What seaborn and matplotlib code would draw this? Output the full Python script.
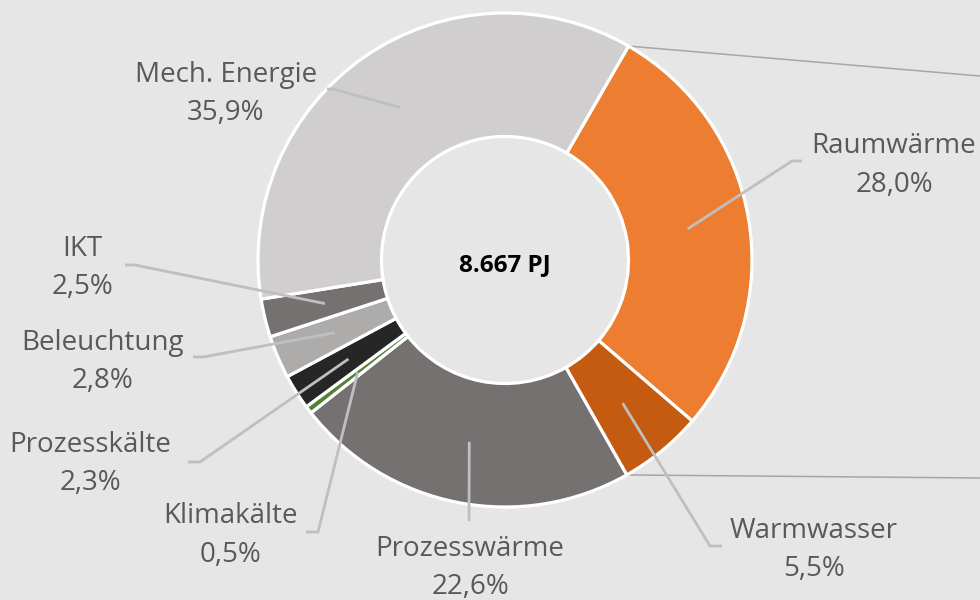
import numpy as np
import matplotlib
matplotlib.use("Agg")
import matplotlib.pyplot as plt
import seaborn as sns

# Daten
kategorien = ["Raumwärme", "Warmwasser", "Prozesswärme", "Klimakälte",
              "Prozesskälte", "Beleuchtung", "IKT", "Mech. Energie"]
anteile = [28.0, 5.5, 22.6, 0.5, 2.3, 2.8, 2.5, 35.9]
gesamt_pj = 8667

farben = ["#ed7d31", "#c55a11", "#767171", "#548235",
          "#262626", "#aeabab", "#767171", "#d0cece"]

# Layout (Bildpixel, y von oben): Textposition (Mitte, Grundlinie) und Knickpunkt der Linie
text_pos = [(894, 153), (814, 538), (470, 556), (230, 523),
            (90, 452), (102, 350), (82, 256), (226, 82)]
knick = [[(792, 161), (802, 161)], [(710, 546), (722, 546)], [(469, 521)],
         [(318, 532), (306, 532)], [(200, 462), (188, 462)],
         [(203, 357), (193, 357)], [(135, 265), (125, 265)],
         [(333, 89), (327, 89)]]

BG = "#e7e6e6"
TXT = "#595959"
W, H = 980, 600
CX, CY = 505, 260
R_AUSSEN = 247
RING = 123.5
START = 60

sns.set_style("white")
plt.rcParams["font.family"] = ["Open Sans", "DejaVu Sans"]


def fy(y):
    return H - y


fig = plt.figure(figsize=(9.8, 6), dpi=100, facecolor=BG)
ax = fig.add_axes([0, 0, 1, 1])
ax.set_facecolor(BG)

ax.pie(anteile, colors=farben, startangle=START, counterclock=False,
       radius=R_AUSSEN, center=(CX, fy(CY)),
       wedgeprops=dict(width=RING, edgecolor="white", linewidth=2.3))

# Winkel der Segmente
frac = np.array(anteile) / np.sum(anteile)
grenzen = START - 360 * np.concatenate([[0], np.cumsum(frac)])
mitten = (grenzen[:-1] + grenzen[1:]) / 2
r_mitte = R_AUSSEN - RING / 2

# Verbindungslinien zum Nachbardiagramm (rechts abgeschnitten)
for ang, yend in [(grenzen[0], 76), (grenzen[2], 478)]:
    x0 = CX + R_AUSSEN * np.cos(np.radians(ang))
    y0 = fy(CY) + R_AUSSEN * np.sin(np.radians(ang))
    ax.plot([x0, W], [y0, fy(yend)], color="#a6a6a6", lw=1.1,
            solid_capstyle="butt", zorder=0)

for i, name in enumerate(kategorien):
    ang = np.radians(mitten[i])
    xs = [CX + r_mitte * np.cos(ang)] + [p[0] for p in knick[i]]
    ys = [fy(CY) + r_mitte * np.sin(ang)] + [fy(p[1]) for p in knick[i]]
    ax.plot(xs, ys, color="#bfbfbf", lw=2.0, solid_capstyle="butt",
            solid_joinstyle="miter", zorder=5)
    tx, ty = text_pos[i]
    pct = f"{anteile[i]:.1f}%".replace(".", ",")
    ax.text(tx, fy(ty), name, ha="center", va="baseline", fontsize=20,
            color=TXT, zorder=6)
    ax.text(tx, fy(ty + 38.5), pct, ha="center", va="baseline", fontsize=20,
            color=TXT, zorder=6)

ax.text(CX, fy(CY + 5), f"{gesamt_pj:,} PJ".replace(",", "."), ha="center",
        va="center", fontsize=17.5, fontweight="bold", color="black")

ax.set_xlim(0, W)
ax.set_ylim(0, H)
ax.set_aspect("equal")
ax.axis("off")

fig.savefig("out.png", dpi=100, facecolor=BG)
